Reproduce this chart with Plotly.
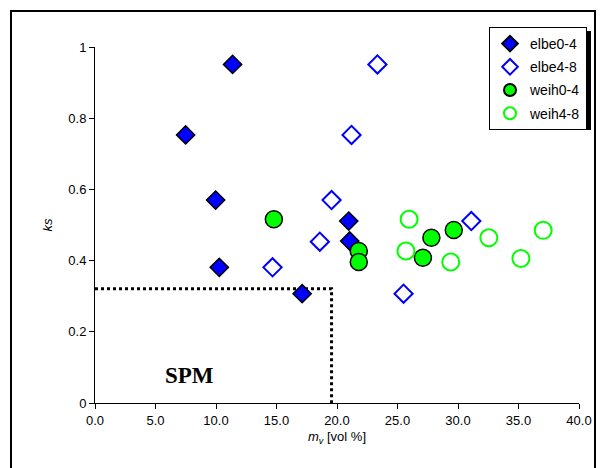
import plotly.graph_objects as go

# Sample series: volume fraction m_v [vol %] and ks
elbe04_mv = [11.37, 7.49, 9.97, 10.27, 20.97, 21.05, 17.12]
elbe04_ks = [0.951, 0.753, 0.570, 0.381, 0.511, 0.455, 0.307]

elbe48_mv = [23.34, 21.20, 19.55, 14.67, 18.58, 25.50, 31.10]
elbe48_ks = [0.951, 0.753, 0.570, 0.381, 0.453, 0.307, 0.511]

weih04_mv = [14.78, 21.80, 21.80, 27.80, 27.10, 29.65]
weih04_ks = [0.516, 0.427, 0.396, 0.464, 0.408, 0.486]

weih48_mv = [25.96, 25.70, 29.40, 32.55, 35.20, 37.04]
weih48_ks = [0.516, 0.427, 0.396, 0.464, 0.406, 0.485]

# SPM boundary
spm_mv = 19.55
spm_ks = 0.321

x_ticks = [0, 5, 10, 15, 20, 25, 30, 35, 40]
y_ticks = [0, 0.2, 0.4, 0.6, 0.8, 1]

W, H = 616, 468
ML, MR, MT, MB = 95, 37, 47, 65
PW, PH = W - ML - MR, H - MT - MB


def px_x(p):
    return (p - ML) / PW


def px_y(p):
    return (H - MB - p) / PH


fig = go.Figure()

fig.add_trace(go.Scatter(
    x=[0, spm_mv, spm_mv], y=[spm_ks, spm_ks, 0],
    mode="lines", showlegend=False, hoverinfo="skip",
    line=dict(color="black", width=3, dash="dot"),
))

fig.add_trace(go.Scatter(
    x=elbe04_mv, y=elbe04_ks, mode="markers", name="elbe0-4", legendgroup="g1",
    marker=dict(symbol="diamond", size=14, color="#0000FF",
                line=dict(color="black", width=1.5)),
))
fig.add_trace(go.Scatter(
    x=elbe48_mv, y=elbe48_ks, mode="markers", name="elbe4-8", legendgroup="g2",
    marker=dict(symbol="diamond-open", size=14, color="#0000FF",
                line=dict(color="#0000FF", width=2)),
))
fig.add_trace(go.Scatter(
    x=weih04_mv, y=weih04_ks, mode="markers", name="weih0-4", legendgroup="g3",
    marker=dict(symbol="circle", size=17, color="#00FF00",
                line=dict(color="black", width=1.5)),
))
fig.add_trace(go.Scatter(
    x=weih48_mv, y=weih48_ks, mode="markers", name="weih4-8", legendgroup="g4",
    marker=dict(symbol="circle-open", size=17, color="#00FF00",
                line=dict(color="#00FF00", width=2)),
))

fig.update_traces(cliponaxis=False)

fig.add_annotation(
    x=7.8, y=0.076, xref="x", yref="y", text="<b>SPM</b>", showarrow=False,
    font=dict(family="Liberation Serif, Times New Roman, serif", size=23, color="black"),
)

# Outer chart frame
fig.add_shape(type="rect", xref="paper", yref="paper",
              x0=px_x(11), x1=px_x(595), y0=px_y(472), y1=px_y(11),
              line=dict(color="black", width=2), fillcolor="rgba(0,0,0,0)")

# Legend drop shadow
LEG_L, LEG_T, LEG_R, LEG_B = 490, 27, 587, 126
fig.add_shape(type="rect", xref="paper", yref="paper",
              x0=px_x(LEG_L + 4), x1=px_x(LEG_R + 4), y0=px_y(LEG_B + 4), y1=px_y(LEG_T + 4),
              line=dict(width=0), fillcolor="black", layer="above")

axis_font = dict(family="Liberation Sans, Arial, sans-serif", size=13, color="black")

fig.update_layout(
    width=W, height=H,
    margin=dict(l=ML, r=MR, t=MT, b=MB),
    paper_bgcolor="white", plot_bgcolor="white",
    font=axis_font,
    showlegend=True,
    legend=dict(
        x=px_x(LEG_R), y=px_y(LEG_T), xanchor="right", yanchor="top",
        bgcolor="white", bordercolor="black", borderwidth=1,
        font=dict(family="Liberation Sans, Arial, sans-serif", size=14, color="black"),
        itemsizing="constant", tracegroupgap=2,
    ),
    xaxis=dict(
        range=[0, 40], tickvals=x_ticks, ticktext=[f"{v:.1f}" for v in x_ticks],
        showgrid=False, zeroline=False, showline=True, linecolor="black", linewidth=1,
        ticks="outside", ticklen=5, tickcolor="black", tickwidth=1,
        tickfont=axis_font,
        title=dict(text="<i>m</i><sub><i>v</i></sub> [vol %]", font=axis_font, standoff=5),
    ),
    yaxis=dict(
        range=[0, 1], tickvals=y_ticks, ticktext=[f"{v:g}" for v in y_ticks],
        showgrid=False, zeroline=False, showline=True, linecolor="black", linewidth=1,
        ticks="outside", ticklen=5, tickcolor="black", tickwidth=1,
        tickfont=axis_font,
        title=dict(text="<i>ks</i>", font=axis_font, standoff=12),
    ),
)

fig.write_html("out.html")
